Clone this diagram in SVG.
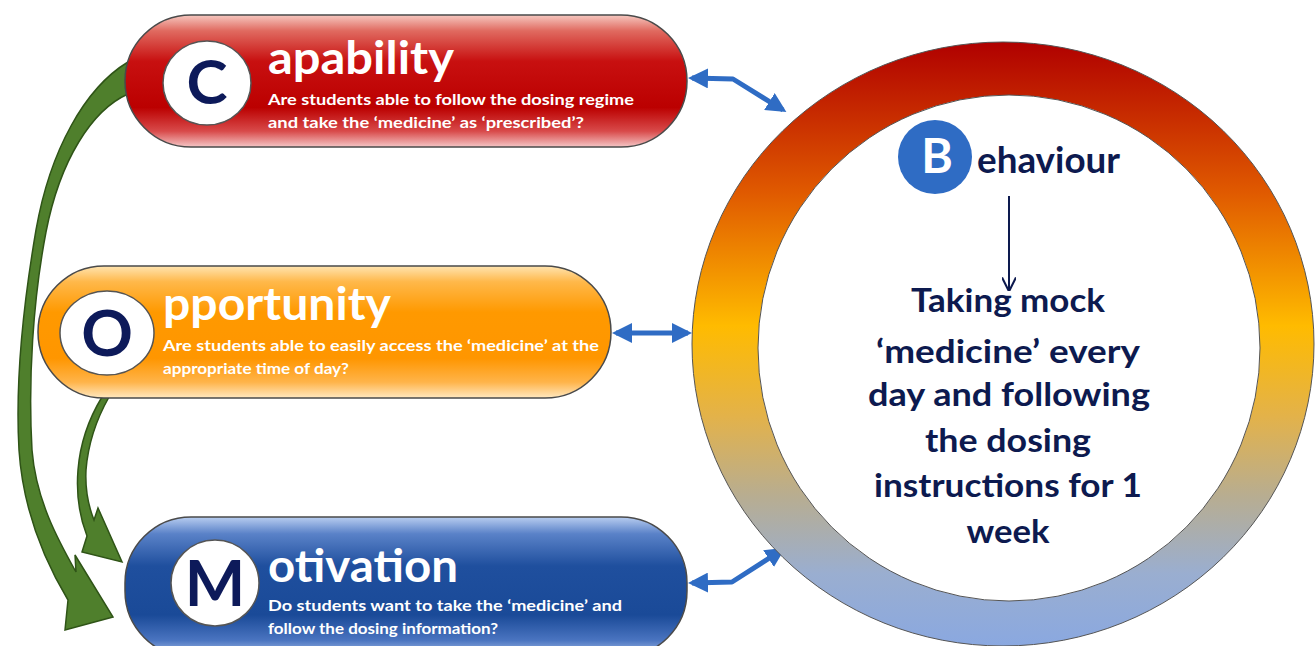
<svg xmlns="http://www.w3.org/2000/svg" width="1315" height="646" viewBox="0 0 1315 646">
<defs>
<linearGradient id="gRed" x1="0" y1="0" x2="0" y2="1">
<stop offset="0" stop-color="#f6c8c0"/><stop offset="0.12" stop-color="#e06a60"/><stop offset="0.35" stop-color="#c81010"/><stop offset="0.7" stop-color="#bb0000"/><stop offset="0.88" stop-color="#d84a4a"/><stop offset="1" stop-color="#f5c6c6"/>
</linearGradient>
<linearGradient id="gOrange" x1="0" y1="0" x2="0" y2="1">
<stop offset="0" stop-color="#ffe4b0"/><stop offset="0.12" stop-color="#ffb84a"/><stop offset="0.35" stop-color="#ff9900"/><stop offset="0.7" stop-color="#ff9600"/><stop offset="0.88" stop-color="#ffb44a"/><stop offset="1" stop-color="#ffe8c0"/>
</linearGradient>
<linearGradient id="gBlue" x1="0" y1="0" x2="0" y2="1">
<stop offset="0" stop-color="#b8cdf0"/><stop offset="0.12" stop-color="#5a82c8"/><stop offset="0.35" stop-color="#1f4f9e"/><stop offset="0.7" stop-color="#1a4a98"/><stop offset="0.88" stop-color="#4a74c0"/><stop offset="1" stop-color="#b0c6ec"/>
</linearGradient>
<linearGradient id="gRing" x1="0" y1="0" x2="0" y2="1">
<stop offset="0" stop-color="#b00000"/><stop offset="0.25" stop-color="#e05a00"/><stop offset="0.47" stop-color="#ffbb00"/><stop offset="0.62" stop-color="#e3b24a"/><stop offset="0.75" stop-color="#b8ad90"/><stop offset="0.88" stop-color="#9aaed0"/><stop offset="1" stop-color="#8aa8e0"/>
</linearGradient>
<marker id="ah" viewBox="0 0 10 10" refX="8" refY="5" markerWidth="4" markerHeight="4" orient="auto-start-reverse" markerUnits="strokeWidth">
<path d="M0,0 L10,5 L0,10 z" fill="#2f6cc4"/>
</marker>
<marker id="ahNavy" viewBox="0 0 10 10" refX="9" refY="5" markerWidth="7" markerHeight="7" orient="auto" markerUnits="strokeWidth">
<path d="M0,0 L10,5 L0,10" fill="none" stroke="#0d1a4f" stroke-width="1.5"/>
</marker>
</defs>
<style>
.pill{stroke:#4a4a4a;stroke-width:1.5}
.letterBg{fill:#ffffff;stroke:#555;stroke-width:1.5}
.letter{font-family:Lato,"Liberation Sans",sans-serif;font-weight:700;fill:#0d1a5a;text-anchor:middle}
.title{font-family:Lato,"Liberation Sans",sans-serif;font-weight:700;fill:#ffffff;font-size:46px}
.sub{font-family:Lato,"Liberation Sans",sans-serif;font-weight:700;fill:#ffffff;font-size:15.5px}
.ring{font-family:Lato,"Liberation Sans",sans-serif;font-weight:700;fill:#0d1a4f;font-size:32px;text-anchor:middle}
.conn{fill:none;stroke:#2f6cc4;stroke-width:5;stroke-linejoin:round}
.green{fill:#4f7f2c;stroke:#2f5417;stroke-width:1.5;stroke-linejoin:miter}
</style>

<g id="connectors">
<path class="green" d="M128,62 C85,88 50,150 36,230 C24,300 15,380 19,450 C23,510 44,560 68,600 L65,630 L113,617 L75,555 L76,572 C58,540 36,500 32,450 C28,380 33,300 46,232 C60,160 92,110 128,94 Z"/>
<path class="green" d="M102,397 C88,420 80,445 78,470 C76,495 80,518 87,536 L82,552 L122,562 L98,508 L94,520 C88,505 85,490 86,470 C88,445 96,420 109,397 Z"/>
<polyline class="conn" points="692,78 733,79 783,110" marker-start="url(#ah)" marker-end="url(#ah)"/>
<line class="conn" x1="616" y1="333" x2="688" y2="333" marker-start="url(#ah)" marker-end="url(#ah)"/>
<polyline class="conn" points="692,583 732,582 782,550" marker-start="url(#ah)" marker-end="url(#ah)"/>
<line x1="1009" y1="196" x2="1009" y2="290" stroke="#0d1a4f" stroke-width="2" marker-end="url(#ahNavy)"/>
</g>

<g id="behaviour">
<path fill="url(#gRing)" stroke="#555" stroke-width="1" fill-rule="evenodd" d="M692,344 a311,302 0 1,0 622,0 a311,302 0 1,0 -622,0 Z M758,348 a251,253 0 1,0 502,0 a251,253 0 1,0 -502,0 Z"/>
<circle cx="935" cy="157" r="37" fill="#2f6cc4"/>
<text x="937" y="173" font-family="Lato,'Liberation Sans',sans-serif" font-weight="700" font-size="48" fill="#ffffff" text-anchor="middle">B</text>
<text x="977" y="173" font-family="Lato,'Liberation Sans',sans-serif" font-weight="700" font-size="37" fill="#0d1a4f" textLength="143" lengthAdjust="spacingAndGlyphs">ehaviour</text>
<text class="ring" x="1008" y="312" textLength="194" lengthAdjust="spacingAndGlyphs">Taking mock</text>
<text class="ring" x="1008" y="363" textLength="264" lengthAdjust="spacingAndGlyphs">‘medicine’ every</text>
<text class="ring" x="1009" y="406" textLength="282" lengthAdjust="spacingAndGlyphs">day and following</text>
<text class="ring" x="1008" y="452" textLength="166" lengthAdjust="spacingAndGlyphs">the dosing</text>
<text class="ring" x="1008" y="497" textLength="268" lengthAdjust="spacingAndGlyphs">instructions for 1</text>
<text class="ring" x="1008" y="543" textLength="83" lengthAdjust="spacingAndGlyphs">week</text>
</g>

<g id="capability">
<rect class="pill" x="125" y="15" width="562" height="132" rx="66" ry="66" fill="url(#gRed)"/>
<ellipse class="letterBg" cx="207" cy="83" rx="44" ry="42"/>
<text class="letter" x="207" y="104" font-size="62">C</text>
<text class="title" x="268" y="74" textLength="186" lengthAdjust="spacingAndGlyphs">apability</text>
<text class="sub" x="268" y="105" textLength="366" lengthAdjust="spacingAndGlyphs">Are students able to follow the dosing regime</text>
<text class="sub" x="268" y="128" textLength="316" lengthAdjust="spacingAndGlyphs">and take the ‘medicine’ as ‘prescribed’?</text>
</g>

<g id="opportunity">
<rect class="pill" x="38" y="266" width="573" height="132" rx="66" ry="66" fill="url(#gOrange)"/>
<ellipse class="letterBg" cx="107" cy="333" rx="47" ry="42"/>
<text class="letter" x="107" y="356" font-size="64">O</text>
<text class="title" x="163" y="320" textLength="228" lengthAdjust="spacingAndGlyphs">pportunity</text>
<text class="sub" x="163" y="351" textLength="436" lengthAdjust="spacingAndGlyphs">Are students able to easily access the ‘medicine’ at the</text>
<text class="sub" x="163" y="374" textLength="186" lengthAdjust="spacingAndGlyphs">appropriate time of day?</text>
</g>

<g id="motivation">
<rect class="pill" x="125" y="517" width="562" height="140" rx="66" ry="66" fill="url(#gBlue)"/>
<ellipse class="letterBg" cx="215" cy="583" rx="44" ry="43"/>
<text class="letter" x="215" y="606" font-size="64">M</text>
<text class="title" x="268" y="582" textLength="190" lengthAdjust="spacingAndGlyphs">otivation</text>
<text class="sub" x="268" y="611" textLength="354" lengthAdjust="spacingAndGlyphs">Do students want to take the ‘medicine’ and</text>
<text class="sub" x="268" y="634" textLength="230" lengthAdjust="spacingAndGlyphs">follow the dosing information?</text>
</g>
</svg>
